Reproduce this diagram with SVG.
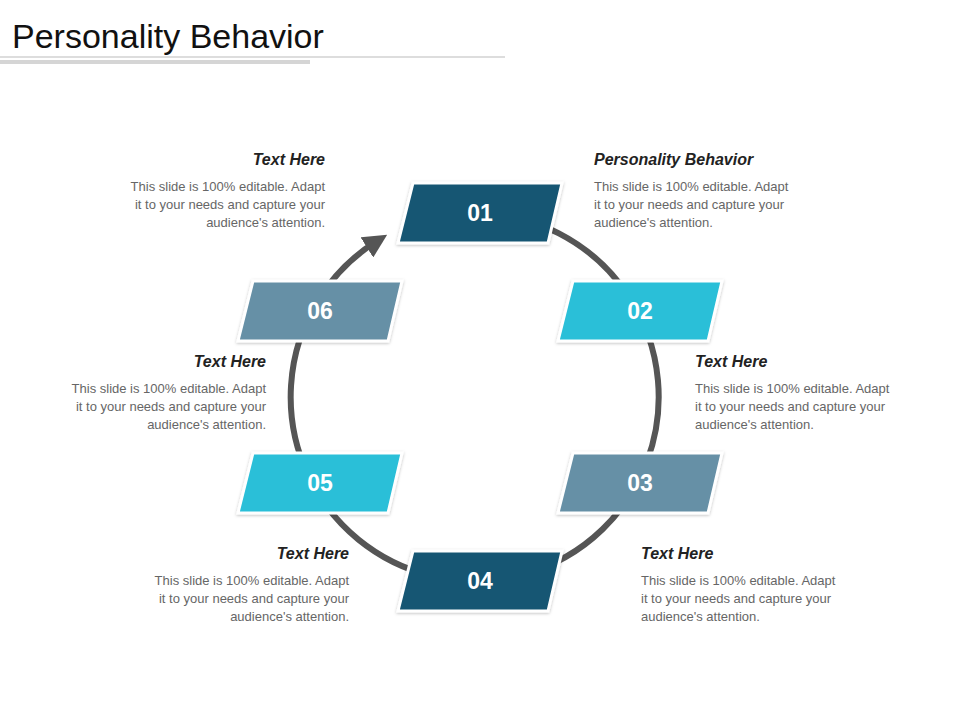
<svg xmlns="http://www.w3.org/2000/svg" width="960" height="720" viewBox="0 0 960 720">
<defs>
<style>
.h{font-family:"Liberation Sans",Arial,sans-serif;font-size:16px;font-weight:bold;font-style:italic;fill:#222}
.b{font-family:"Liberation Sans",Arial,sans-serif;font-size:13px;fill:#666}
.n{font-family:"Liberation Sans",Arial,sans-serif;font-size:23px;font-weight:bold;fill:#fff;text-anchor:middle}
.p{stroke:#fff;stroke-width:3;filter:url(#sh)}
.r{text-anchor:end}
</style>
<filter id="sh" x="-10%" y="-10%" width="120%" height="130%"><feDropShadow dx="0" dy="1" stdDeviation="1.5" flood-color="#000" flood-opacity="0.25"/></filter>
<marker id="ah" viewBox="0 0 10 10" refX="5" refY="5" markerWidth="4" markerHeight="4" orient="auto"><path d="M0,0 L10,5 L0,10 z" fill="#555"/></marker>
</defs>
<rect width="960" height="720" fill="#fff"/>
<text x="12" y="48" font-family="Liberation Sans,Arial,sans-serif" font-size="34" fill="#111">Personality Behavior</text>
<rect x="0" y="56" width="505" height="2" fill="#ddd"/>
<rect x="0" y="60" width="310" height="4" fill="#d5d5d5"/>
<g id="connectors">
<path d="M480,213 A184,184 0 1 1 377,241" fill="none" stroke="#555" stroke-width="6" marker-end="url(#ah)"/>
</g>
<g id="n01"><path class="p" d="M413,183 L562,183 L548,243 L398,243 Z" fill="#175673"/><text class="n" x="480" y="221">01</text></g>
<g id="n02"><path class="p" d="M573,281 L722,281 L708,341 L558,341 Z" fill="#29bfd8"/><text class="n" x="640" y="319">02</text></g>
<g id="n03"><path class="p" d="M573,453 L722,453 L708,513 L558,513 Z" fill="#6690a6"/><text class="n" x="640" y="491">03</text></g>
<g id="n04"><path class="p" d="M413,551 L562,551 L548,611 L398,611 Z" fill="#175673"/><text class="n" x="480" y="589">04</text></g>
<g id="n05"><path class="p" d="M253,453 L402,453 L388,513 L238,513 Z" fill="#29bfd8"/><text class="n" x="320" y="491">05</text></g>
<g id="n06"><path class="p" d="M253,281 L402,281 L388,341 L238,341 Z" fill="#6690a6"/><text class="n" x="320" y="319">06</text></g>
<g id="t1"><text class="h r" x="325" y="165">Text Here</text><text class="b r" x="325" y="191">This slide is 100% editable. Adapt</text><text class="b r" x="325" y="209">it to your needs and capture your</text><text class="b r" x="325" y="227">audience's attention.</text></g>
<g id="t2"><text class="h" x="594" y="165">Personality Behavior</text><text class="b" x="594" y="191">This slide is 100% editable. Adapt</text><text class="b" x="594" y="209">it to your needs and capture your</text><text class="b" x="594" y="227">audience's attention.</text></g>
<g id="t3"><text class="h r" x="266" y="367">Text Here</text><text class="b r" x="266" y="393">This slide is 100% editable. Adapt</text><text class="b r" x="266" y="411">it to your needs and capture your</text><text class="b r" x="266" y="429">audience's attention.</text></g>
<g id="t4"><text class="h" x="695" y="367">Text Here</text><text class="b" x="695" y="393">This slide is 100% editable. Adapt</text><text class="b" x="695" y="411">it to your needs and capture your</text><text class="b" x="695" y="429">audience's attention.</text></g>
<g id="t5"><text class="h r" x="349" y="559">Text Here</text><text class="b r" x="349" y="585">This slide is 100% editable. Adapt</text><text class="b r" x="349" y="603">it to your needs and capture your</text><text class="b r" x="349" y="621">audience's attention.</text></g>
<g id="t6"><text class="h" x="641" y="559">Text Here</text><text class="b" x="641" y="585">This slide is 100% editable. Adapt</text><text class="b" x="641" y="603">it to your needs and capture your</text><text class="b" x="641" y="621">audience's attention.</text></g>
</svg>
